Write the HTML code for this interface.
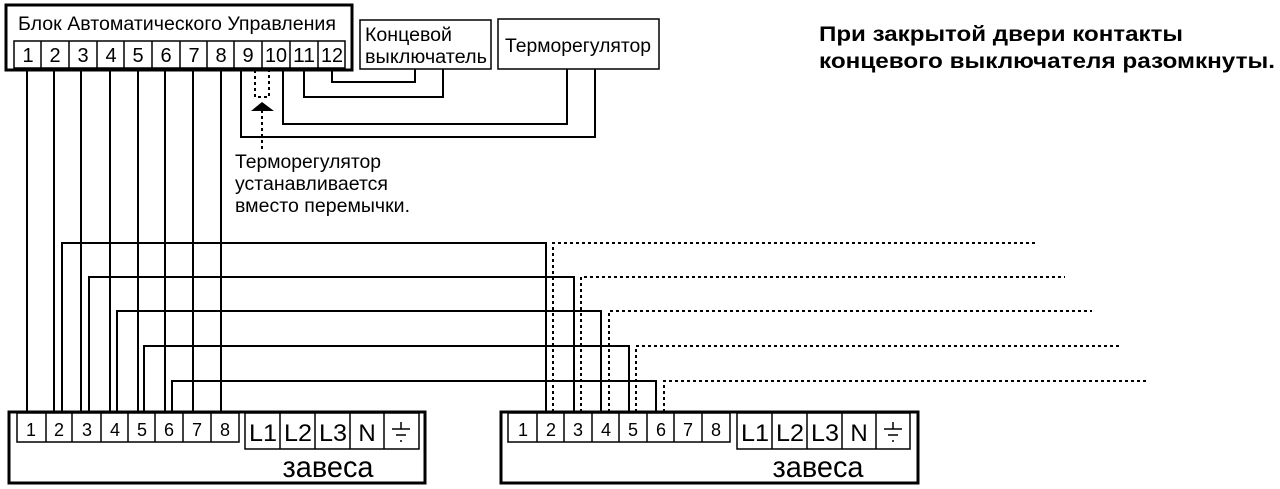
<!DOCTYPE html>
<html><head><meta charset="utf-8"><style>
html,body{margin:0;padding:0;background:#fff;}
svg{display:block;}
text{font-family:"Liberation Sans",sans-serif;fill:#000;}
</style></head><body>
<svg width="1280" height="489" viewBox="0 0 1280 489" xmlns="http://www.w3.org/2000/svg">
<g fill="none" stroke="#000" stroke-width="2">
<rect x="6" y="5" width="346" height="65" stroke-width="3"/>
<rect x="14" y="41" width="331" height="27" stroke-width="1.5"/>
<path d="M41 41V68M69 41V68M97 41V68M124 41V68M152 41V68M180 41V68M207 41V68M234 41V68M262 41V68M290 41V68M318 41V68" stroke-width="1.5"/>
<rect x="360" y="20" width="131" height="49" stroke-width="1.5"/>
<rect x="498" y="19" width="161" height="50" stroke-width="1.5"/>
<path d="M241 68V137H595V69"/>
<path d="M283 68V124H567V69"/>
<path d="M304 68V97H443V69"/>
<path d="M332 68V82H415V69"/>
<path d="M255 70V97H269V70" stroke-dasharray="3,3"/>
<path d="M262 110V150" stroke-dasharray="3,3"/>
<path d="M27 68V412M54 68V412M81 68V412M110 68V412M138 68V412M165 68V412M193 68V412M221 68V412"/>
<path d="M62 412V243H546V412"/>
<path d="M89 412V277H574V412"/>
<path d="M117 412V311H601V412"/>
<path d="M144 412V346H629V412"/>
<path d="M172 412V381H656V412"/>
<g stroke-dasharray="3,3">
<path d="M553 412V243H1037"/>
<path d="M581 412V277H1065"/>
<path d="M609 412V311H1092"/>
<path d="M636 412V346H1120"/>
<path d="M664 412V381H1147"/>
</g>
<rect x="9" y="412" width="416" height="71" stroke-width="3"/>
<rect x="17" y="413" width="222" height="29" stroke-width="1.5"/>
<path d="M46 413V442M72 413V442M101 413V442M128 413V442M155 413V442M183 413V442M211 413V442" stroke-width="1.5"/>
<rect x="245" y="413" width="174" height="36" stroke-width="1.5"/>
<path d="M280 413V449M315 413V449M350 413V449M384 413V449" stroke-width="1.5"/>
<path d="M401 422V429M392 429H410M396 435H406M400 441H402" stroke-width="1.5"/>
<rect x="501" y="412" width="417" height="71" stroke-width="3"/>
<rect x="508" y="413" width="222" height="29" stroke-width="1.5"/>
<path d="M537 413V442M564 413V442M592 413V442M619 413V442M647 413V442M674 413V442M702 413V442" stroke-width="1.5"/>
<rect x="737" y="413" width="173" height="36" stroke-width="1.5"/>
<path d="M772 413V449M807 413V449M842 413V449M876 413V449" stroke-width="1.5"/>
<path d="M893 422V429M884 429H902M888 435H898M892 441H894" stroke-width="1.5"/>
</g>
<polygon points="262,102 251,111 274,111" fill="#000"/>
<g font-size="19" lengthAdjust="spacingAndGlyphs">
<text x="18" y="30" textLength="318" lengthAdjust="spacingAndGlyphs">Блок Автоматического Управления</text>
<text x="365" y="41" textLength="87" lengthAdjust="spacingAndGlyphs">Концевой</text>
<text x="365" y="63" textLength="122" lengthAdjust="spacingAndGlyphs">выключатель</text>
<text x="505" y="52" textLength="146" lengthAdjust="spacingAndGlyphs">Терморегулятор</text>
<text x="235" y="168" textLength="146" lengthAdjust="spacingAndGlyphs">Терморегулятор</text>
<text x="235" y="190" textLength="153" lengthAdjust="spacingAndGlyphs">устанавливается</text>
<text x="235" y="212" textLength="175" lengthAdjust="spacingAndGlyphs">вместо перемычки.</text>
</g>
<g font-size="20" text-anchor="middle">
<text x="28" y="62">1</text><text x="55" y="62">2</text><text x="83" y="62">3</text><text x="111" y="62">4</text><text x="138" y="62">5</text><text x="166" y="62">6</text><text x="194" y="62">7</text><text x="221" y="62">8</text><text x="248" y="62">9</text>
<text x="276" y="62" textLength="22" lengthAdjust="spacingAndGlyphs">10</text><text x="304" y="62" textLength="22" lengthAdjust="spacingAndGlyphs">11</text><text x="332" y="62" textLength="22" lengthAdjust="spacingAndGlyphs">12</text>
</g>
<g font-size="18" text-anchor="middle">
<text x="31" y="436">1</text><text x="59" y="436">2</text><text x="87" y="436">3</text><text x="115" y="436">4</text><text x="142" y="436">5</text><text x="169" y="436">6</text><text x="197" y="436">7</text><text x="225" y="436">8</text>
<text x="523" y="436">1</text><text x="551" y="436">2</text><text x="578" y="436">3</text><text x="606" y="436">4</text><text x="633" y="436">5</text><text x="661" y="436">6</text><text x="688" y="436">7</text><text x="716" y="436">8</text>
</g>
<g font-size="24" text-anchor="middle">
<text x="263" y="441" textLength="28" lengthAdjust="spacingAndGlyphs">L1</text><text x="298" y="441" textLength="28" lengthAdjust="spacingAndGlyphs">L2</text><text x="333" y="441" textLength="28" lengthAdjust="spacingAndGlyphs">L3</text><text x="367" y="441">N</text>
<text x="755" y="441" textLength="28" lengthAdjust="spacingAndGlyphs">L1</text><text x="790" y="441" textLength="28" lengthAdjust="spacingAndGlyphs">L2</text><text x="825" y="441" textLength="28" lengthAdjust="spacingAndGlyphs">L3</text><text x="859" y="441">N</text>
</g>
<g font-size="30" text-anchor="middle">
<text x="328" y="477" textLength="91" lengthAdjust="spacingAndGlyphs">завеса</text>
<text x="818" y="477" textLength="91" lengthAdjust="spacingAndGlyphs">завеса</text>
</g>
<g font-size="21" font-weight="bold">
<text x="819" y="41" textLength="364" lengthAdjust="spacingAndGlyphs">При закрытой двери контакты</text>
<text x="819" y="68" textLength="456" lengthAdjust="spacingAndGlyphs">концевого выключателя разомкнуты.</text>
</g>
</svg>
</body></html>
